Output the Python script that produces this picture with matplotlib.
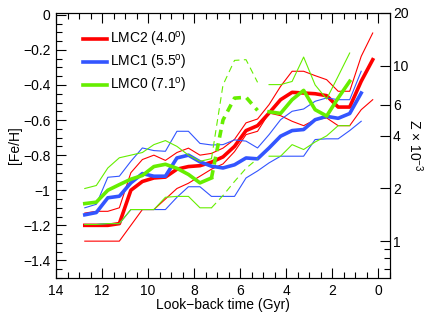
import numpy as np
import matplotlib
matplotlib.use('Agg')
import matplotlib.pyplot as plt
from matplotlib.ticker import MultipleLocator, FixedLocator, FixedFormatter, NullFormatter, FuncFormatter
from matplotlib.lines import Line2D

# ---- data ----
ages_lmc2 = [12.75, 12.25, 11.75, 11.25, 10.75, 10.25, 9.75, 9.25, 8.75, 8.25, 7.75, 7.25, 6.75,
             6.25, 5.75, 5.25, 4.75, 4.25, 3.75, 3.25, 2.75, 2.25, 1.75, 1.25, 0.75, 0.25]
feh_lmc2 = [-1.20, -1.20, -1.20, -1.19, -1.00, -0.95, -0.93, -0.925, -0.88, -0.865, -0.86, -0.84, -0.81,
            -0.75, -0.66, -0.632, -0.56, -0.484, -0.442, -0.446, -0.45, -0.461, -0.526, -0.526, -0.379, -0.256]
feh_lmc2_hi = [-1.13, -1.12, -1.12, -1.10, -0.90, -0.825, -0.80, -0.83, -0.785, -0.76, -0.80, -0.79, -0.76,
               -0.71, -0.616, -0.594, -0.512, -0.408, -0.322, -0.322, -0.347, -0.37, -0.436, -0.436, -0.237, -0.104]
feh_lmc2_lo = [-1.29, -1.29, -1.29, -1.29, -1.20, -1.11, -1.11, -1.05, -0.99, -0.96, -0.92, -0.88, -0.85,
               -0.78, -0.683, -0.664, -0.56, -0.575, -0.607, -0.632, -0.598, -0.588, -0.632, -0.632, -0.541, -0.484]

ages_lmc1 = [12.75, 12.25, 11.75, 11.25, 10.75, 10.25, 9.75, 9.25, 8.75, 8.25, 7.75, 7.25, 6.75,
             6.25, 5.75, 5.25, 4.75, 4.25, 3.75, 3.25, 2.75, 2.25, 1.75, 1.25, 0.75]
feh_lmc1 = [-1.14, -1.127, -1.043, -1.034, -0.958, -0.905, -0.92, -0.92, -0.816, -0.80, -0.838, -0.863, -0.873,
            -0.855, -0.816, -0.821, -0.759, -0.692, -0.66, -0.654, -0.598, -0.579, -0.59, -0.563, -0.446]
feh_lmc1_hi = [-1.10, -1.08, -0.926, -0.92, -0.835, -0.759, -0.774, -0.778, -0.664, -0.664, -0.733, -0.742, -0.74,
               -0.713, -0.72, -0.759, -0.683, -0.598, -0.55, -0.537, -0.493, -0.474, -0.484, -0.484, -0.322]
feh_lmc1_lo = [-1.195, -1.195, -1.19, -1.19, -1.11, -1.11, -1.11, -1.11, -1.04, -0.98, -0.98, -1.035, -1.035,
               -1.035, -0.93, -0.89, -0.844, -0.806, -0.806, -0.806, -0.711, -0.707, -0.707, -0.66, -0.607]

ages_lmc0 = [12.75, 12.25, 11.75, 11.25, 10.75, 10.25, 9.75, 9.25, 8.75, 8.25, 7.75, 7.25, 6.75,
             6.25, 5.75, 5.25, 4.75, 4.25, 3.75, 3.25, 2.75, 2.25, 1.75, 1.25]
feh_lmc0 = [-1.076, -1.068, -1.00, -0.968, -0.937, -0.916, -0.865, -0.852, -0.875, -0.91, -0.958, -0.93, -0.60,
            -0.475, -0.47, -0.545, -0.553, -0.562, -0.484, -0.431, -0.541, -0.577, -0.474, -0.379]
feh_lmc0_hi = [-0.99, -0.973, -0.873, -0.815, -0.80, -0.785, -0.74, -0.717, -0.75, -0.80, -0.835, -0.82, -0.40,
               -0.26, -0.256, -0.385, -0.398, -0.398, -0.38, -0.241, -0.40, -0.48, -0.35, -0.218]
feh_lmc0_lo = [-1.195, -1.195, -1.19, -1.19, -1.11, -1.11, -1.11, -1.04, -1.035, -1.035, -1.10, -1.10, -1.03,
               -0.95, -0.875, -0.82, -0.806, -0.806, -0.74, -0.768, -0.725, -0.69, -0.632, -0.632]

labels = ['LMC2 (4.0$^{o}$)', 'LMC1 (5.5$^{o}$)', 'LMC0 (7.1$^{o}$)']
colors = ['#ff0000', '#3355ff', '#66ee00']
z_ticks = [1, 2, 4, 6, 10, 20]
z_minor = [0.7, 0.8, 0.9]

# ---- style ----
plt.rcParams['font.family'] = ['Liberation Sans', 'DejaVu Sans']
plt.rcParams['font.size'] = 10
plt.rcParams['mathtext.default'] = 'regular'
plt.rcParams['axes.linewidth'] = 0.8

lwThick = 2.6
lwThin = 0.8

def feh_fmt(v, pos):
    if abs(v) < 1e-9:
        return '0'
    if abs(v + 1) < 1e-9:
        return '\u22121'
    return ('%.1f' % v).replace('-', '\u2212')

fig = plt.figure(figsize=(4.36, 3.22), dpi=100)
ax = fig.add_axes([56/436, 44/322, 334/436, 265/322])

# LMC2 and LMC1
for ages, mid, hi, lo, c in [(ages_lmc2, feh_lmc2, feh_lmc2_hi, feh_lmc2_lo, colors[0]),
                             (ages_lmc1, feh_lmc1, feh_lmc1_hi, feh_lmc1_lo, colors[1])]:
    ax.plot(ages, hi, c=c, lw=lwThin)
    ax.plot(ages, lo, c=c, lw=lwThin)
    ax.plot(ages, mid, c=c, lw=lwThick)

# LMC0: solid / dashed (uncertain) / solid
a0 = np.array(ages_lmc0)
for arr, lw in [(feh_lmc0_hi, lwThin), (feh_lmc0_lo, lwThin), (feh_lmc0, lwThick)]:
    arr = np.array(arr)
    ax.plot(a0[:12], arr[:12], c=colors[2], lw=lw)
    ax.plot(a0[11:16], arr[11:16], c=colors[2], lw=lw, ls=(0, (2.2, 1.6)) if lw > 1 else (0, (6, 4)))
    ax.plot(a0[16:], arr[16:], c=colors[2], lw=lw)

ax.set_xlim(14, -0.5)
ax.set_ylim(-1.5, 0.01)
ax.xaxis.set_major_locator(MultipleLocator(2))
ax.xaxis.set_minor_locator(MultipleLocator(0.5))
ax.yaxis.set_major_locator(MultipleLocator(0.2))
ax.yaxis.set_minor_locator(MultipleLocator(0.05))
ax.yaxis.set_major_formatter(FuncFormatter(feh_fmt))
ax.xaxis.set_major_formatter(FuncFormatter(lambda v, p: '%d' % round(v)))
ax.tick_params(which='both', direction='in', top=True, right=False, width=0.8)
ax.tick_params(which='major', length=7.5, pad=4)
ax.tick_params(which='minor', length=4)
ax.set_xlabel('Look\u2212back time (Gyr)', labelpad=0)
ax.set_ylabel('[Fe/H]', labelpad=1)

# right axis: Z x 10^-3, log scale tied to [Fe/H]
ax2 = ax.twinx()
ax2.set_position(ax.get_position())
ax2.set_yscale('log')
ax2.set_ylim(20 * 10**(-1.51), 20)
ax2.yaxis.set_major_locator(FixedLocator(z_ticks))
ax2.yaxis.set_major_formatter(FixedFormatter([str(z) for z in z_ticks]))
ax2.yaxis.set_minor_locator(FixedLocator(z_minor))
ax2.yaxis.set_minor_formatter(NullFormatter())
ax2.tick_params(which='both', direction='in', width=0.8)
ax2.tick_params(which='major', length=7.5, pad=2)
ax2.tick_params(which='minor', length=4)
ax2.set_ylabel('Z \u00d7 10$^{\u22123}$', rotation=-90, labelpad=12)

handles = [Line2D([], [], c=c, lw=lwThick) for c in colors]
ax.legend(handles, labels, loc='upper left', bbox_to_anchor=(0.08, 0.935), frameon=False,
          borderpad=0, borderaxespad=0, handlelength=1.75, handletextpad=0.25, labelspacing=0.28)

fig.savefig('out.png', dpi=100)
